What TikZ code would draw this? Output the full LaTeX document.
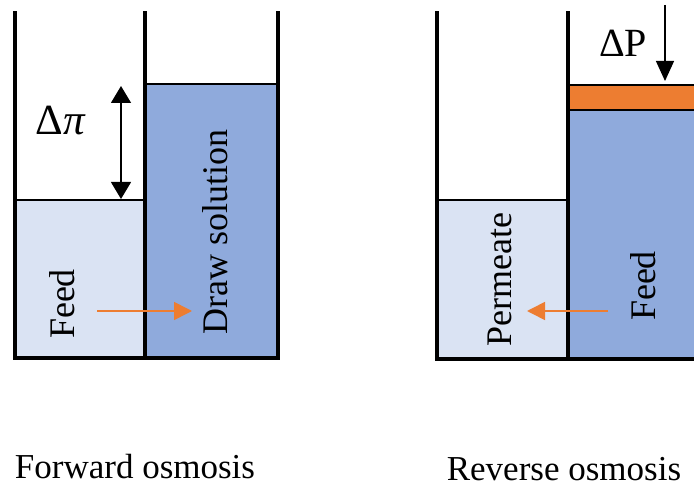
\documentclass[tikz,border=0pt]{standalone}
\usepackage{fontspec}
\setmainfont{Liberation Serif}
\usetikzlibrary{arrows.meta}
\definecolor{feedlight}{HTML}{DAE3F3}
\definecolor{drawblue}{HTML}{8FAADC}
\definecolor{pistonorange}{HTML}{ED7D31}
\tikzset{
  wall/.style={line width=4pt, line cap=rect},
  liquid/.style={draw=black, line width=2pt},
  lbl/.style={inner sep=0pt, font=\fontsize{36}{40}\selectfont},
  caption/.style={inner sep=0pt, font=\fontsize{35}{40}\selectfont},
  flowarrow/.style={draw=pistonorange, line width=1.6pt, -{Triangle[width=18pt,length=18pt]}},
  blackarrow/.style={draw=black, line width=1.2pt},
}
\begin{document}
\begin{tikzpicture}[x=1pt,y=-1pt]
\useasboundingbox (0,0) rectangle (694,486);
\begin{scope}
\clip (0,0) rectangle (694,486);
% ---------- Forward osmosis ----------
\filldraw[liquid, fill=feedlight] (15,200) rectangle (145,358);
\filldraw[liquid, fill=drawblue] (145,84) rectangle (278,358);
\draw[wall] (15,13) -- (15,358) -- (278,358) -- (278,13);
\draw[wall] (145,13) -- (145,358);
% ---------- Reverse osmosis ----------
\filldraw[liquid, fill=feedlight] (437,200) rectangle (568,359);
\filldraw[liquid, fill=drawblue] (568,110) rectangle (720,359);
\filldraw[liquid, fill=pistonorange] (568,85) rectangle (720,110);
\draw[wall] (437,13) -- (437,359) -- (720,359);
\draw[wall] (568,13) -- (568,359);
\end{scope}
% labels FO
\node[lbl, font=\fontsize{43}{46}\selectfont] (dpi) at (61,121) {Δ\textit{π}};
\coordinate (dpitop) at (121,86);
\coordinate (dpibot) at (121,199);
\draw[blackarrow, {Triangle[width=20pt,length=17pt]}-{Triangle[width=20pt,length=17pt]}] (dpitop) -- (dpibot);
\node[lbl, rotate=90] (feedfo) at (62,304) {Feed};
\node[lbl, rotate=90] (drawsol) at (215,232) {Draw solution};
\coordinate (fostart) at (97,311);
\coordinate (foend) at (192,311);
\draw[flowarrow] (fostart) -- (foend);
\node[caption] (fo) at (135,467) {Forward osmosis};
% labels RO
\node[lbl, font=\fontsize{40}{44}\selectfont] (dp) at (623,43) {ΔP};
\coordinate (dptop) at (665,5);
\coordinate (dpbot) at (665,81);
\draw[blackarrow, -{Triangle[width=18pt,length=20pt]}] (dptop) -- (dpbot);
\node[lbl, rotate=90] (perm) at (500,280) {Permeate};
\node[lbl, rotate=90] (feedro) at (643,286) {Feed};
\coordinate (rostart) at (608,311);
\coordinate (roend) at (527,311);
\draw[flowarrow] (rostart) -- (roend);
\node[caption] (ro) at (564,469) {Reverse osmosis};
\end{tikzpicture}
\end{document}
